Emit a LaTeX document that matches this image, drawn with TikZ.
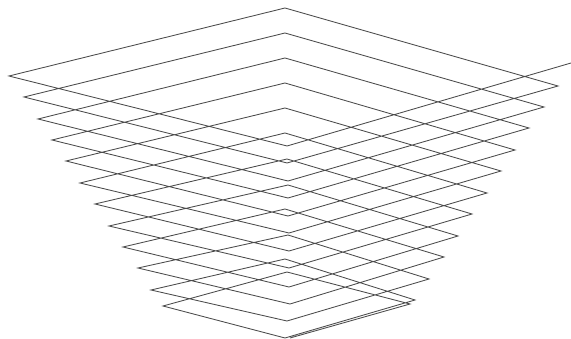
\documentclass[tikz,border=0pt]{standalone}
\definecolor{ink}{RGB}{75,75,75}
\begin{document}
\begin{tikzpicture}[x=1pt,y=-1pt,spiral/.style={draw=ink,line width=0.85pt,line join=miter,miter limit=10}]
\useasboundingbox[fill=white] (0,0) rectangle (571,339);
\draw[spiral] (571,63)
 -- (287,146) -- (9,76) -- (285,8) -- (558,86)
 -- (287,163) -- (24,97) -- (285,33) -- (544,107)
 -- (288,181) -- (38,119) -- (285,58) -- (529,128)
 -- (288,198) -- (52,140) -- (285,83) -- (515,150)
 -- (288,216) -- (66,161) -- (285,108) -- (501,171)
 -- (289,233) -- (80,183) -- (285,133) -- (487,193)
 -- (289,251) -- (95,204) -- (287,159) -- (472,214)
 -- (289,268) -- (109,226) -- (288,185) -- (458,236)
 -- (289,287) -- (123,247) -- (285,209) -- (444,257)
 -- (290,304) -- (138,268) -- (288,235) -- (429,279)
 -- (287,321) -- (151,290) -- (285,259) -- (415,300)
 -- (285,338) -- (163,306) -- (287,272) -- (410,304) -- (290,338);
\end{tikzpicture}
\end{document}
